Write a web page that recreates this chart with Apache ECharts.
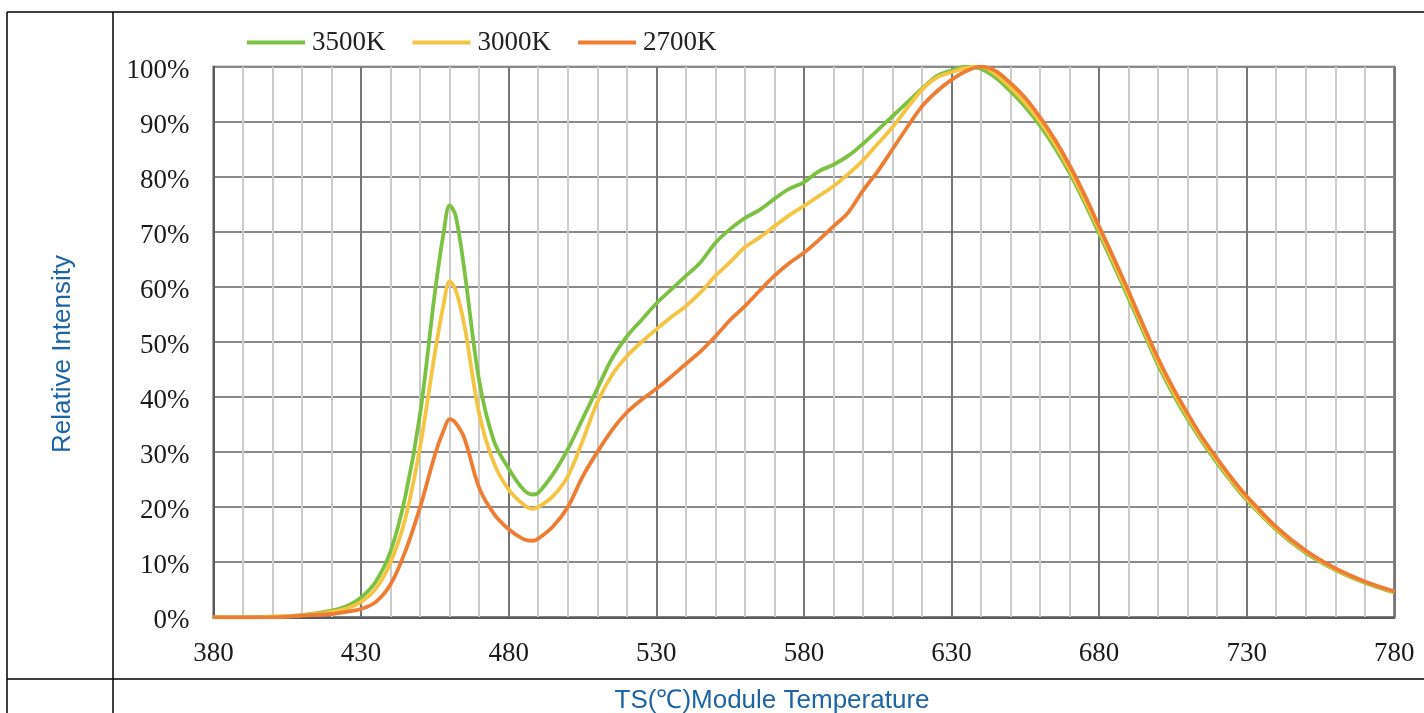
<!DOCTYPE html>
<html>
<head>
<meta charset="utf-8">
<script src="https://cdn.jsdelivr.net/npm/echarts@6/dist/echarts.min.js"></script>
<style>
html,body{margin:0;padding:0;background:#fff;}
#chart{width:1424px;height:713px;}
</style>
</head>
<body>
<div id="chart"></div>
<script>
// Wavelength (nm)
var wavelengths = [380,390,400,410,420,425,430,435,440,445,450,455,458,460,462,465,470,475,480,485,488,490,495,500,505,510,515,520,525,530,535,540,545,550,555,560,565,570,575,580,585,590,595,600,605,610,615,620,625,630,635,640,645,650,655,660,665,670,675,680,685,690,695,700,705,710,715,720,725,730,740,750,760,770,780];
// Relative intensity (%)
var cct3500 = [0,0,0.1,0.4,1.2,2.0,3.6,6.5,12,22,37,59,70,74.8,73,63,43,32,27,23.2,22.3,22.6,26,30.5,36,41.5,47,51,54,57,59.5,62,64.5,68,70.5,72.5,74,76,77.8,79,81,82.2,83.8,86,88.5,91,93.5,96,98.3,99.3,100,99.6,98,95.5,92.7,89.3,85.3,80.7,75.4,69.7,63.9,57.9,51.8,45.8,40.6,36,31.8,28,24.5,21.3,15.9,11.7,8.6,6.3,4.5];
var cct3000 = [0,0,0.1,0.4,1.0,1.6,2.8,5.2,10,18,31,48,57,61,59.5,53,37,28,23.2,20.5,19.7,20,22,25.6,32,39,44,47.4,50,52.3,54.5,56.5,59,62,64.5,67.2,69,71,73,74.7,76.5,78.3,80.5,83,86,89,92.5,95.8,98,99,99.8,100,98.6,96.2,93.4,90,86,81.3,76,70.3,64.5,58.5,52.4,46.4,41.1,36.5,32.2,28.4,24.8,21.6,16.1,11.9,8.7,6.4,4.6];
var cct2700 = [0,0,0,0.3,0.6,1.0,1.5,2.8,6,12,20,29.5,34,36,35.3,32.5,23.5,18.8,16,14.2,13.9,14.3,16.5,20,25.5,30,34,37.2,39.5,41.5,43.7,46,48.3,51,54,56.5,59.3,62,64.3,66.2,68.5,71,73.5,77.5,81,85,89,92.8,95.5,97.6,99.2,100,99.2,97,94.3,90.8,86.8,82.1,76.8,71,65.2,59.2,53,47,41.7,37,32.6,28.8,25.2,22,16.4,12.1,8.9,6.5,4.7];
var seriesNames = ['3500K','3000K','2700K'];
var yTitle = 'Relative Intensity';
var xTitle = 'TS(℃)Module Temperature';

function pairs(vals){ return wavelengths.map(function(w,i){ return [w, vals[i]]; }); }

var colors = ['#7cc242','#f6c443','#ee7d34'];
var serif = 'Liberation Serif, Times New Roman, serif';
var sans = 'Liberation Sans, Arial, sans-serif';

var chart = echarts.init(document.getElementById('chart'));
var allVals = [cct3500, cct3000, cct2700];
chart.setOption({
  animation: false,
  backgroundColor: '#fff',
  color: colors,
  grid: {left: 213.5, right: 29.7, top: 66.7, bottom: 95.7, show: true, borderColor: '#5a5a5a', borderWidth: 2, backgroundColor: 'transparent'},
  legend: {
    left: 247, top: 29, padding: 0, icon: 'rect', itemWidth: 58, itemHeight: 4, itemGap: 27,
    textStyle: {fontFamily: serif, fontSize: 27, color: '#222', padding: [2,0,0,2]},
    data: seriesNames
  },
  xAxis: {
    type: 'value', min: 380, max: 780, interval: 50,
    axisLine: {show: true, lineStyle: {color: '#5a5a5a', width: 2}},
    axisTick: {show: false},
    minorTick: {show: false, splitNumber: 5},
    axisLabel: {fontFamily: serif, fontSize: 27, color: '#1a1a1a', margin: 23},
    splitLine: {show: true, lineStyle: {color: '#767676', width: 2}},
    minorSplitLine: {show: true, lineStyle: {color: '#cbcbcb', width: 2}}
  },
  yAxis: {
    type: 'value', min: 0, max: 100, interval: 10,
    axisLine: {show: true, lineStyle: {color: '#5a5a5a', width: 2}},
    axisTick: {show: false},
    axisLabel: {
      fontFamily: serif, fontSize: 27, color: '#1a1a1a', margin: 24,
      formatter: function(v){ return '{a|' + v + '%}'; },
      rich: {a: {fontFamily: serif, fontSize: 27, color: '#1a1a1a', padding: [8,0,0,0]}}
    },
    splitLine: {show: true, lineStyle: {color: '#8a8a8a', width: 2}}
  },
  series: seriesNames.map(function(n, i){
    return {
      name: n, type: 'line', data: pairs(allVals[i]), smooth: 0.35,
      showSymbol: false, symbol: 'none',
      lineStyle: {width: 3.8, color: colors[i]}, z: 3 + i
    };
  }),
  graphic: [
    {type: 'line', shape: {x1: 7, y1: 12, x2: 1424, y2: 12}, style: {stroke: '#000', lineWidth: 1.5}, silent: true},
    {type: 'line', shape: {x1: 7, y1: 12, x2: 7, y2: 713}, style: {stroke: '#000', lineWidth: 1.5}, silent: true},
    {type: 'line', shape: {x1: 113, y1: 12, x2: 113, y2: 713}, style: {stroke: '#000', lineWidth: 1.5}, silent: true},
    {type: 'line', shape: {x1: 7, y1: 679, x2: 1424, y2: 679}, style: {stroke: '#000', lineWidth: 1.5}, silent: true},
    {type: 'text', x: 63, y: 354, rotation: Math.PI/2, style: {text: yTitle, fontFamily: sans, fontSize: 26, fill: '#1b65a6', align: 'center', verticalAlign: 'middle'}, silent: true},
    {type: 'text', x: 772, y: 701, style: {text: xTitle, fontFamily: sans, fontSize: 26, fill: '#1b65a6', align: 'center', verticalAlign: 'middle'}, silent: true}
  ]
});
</script>
</body>
</html>
